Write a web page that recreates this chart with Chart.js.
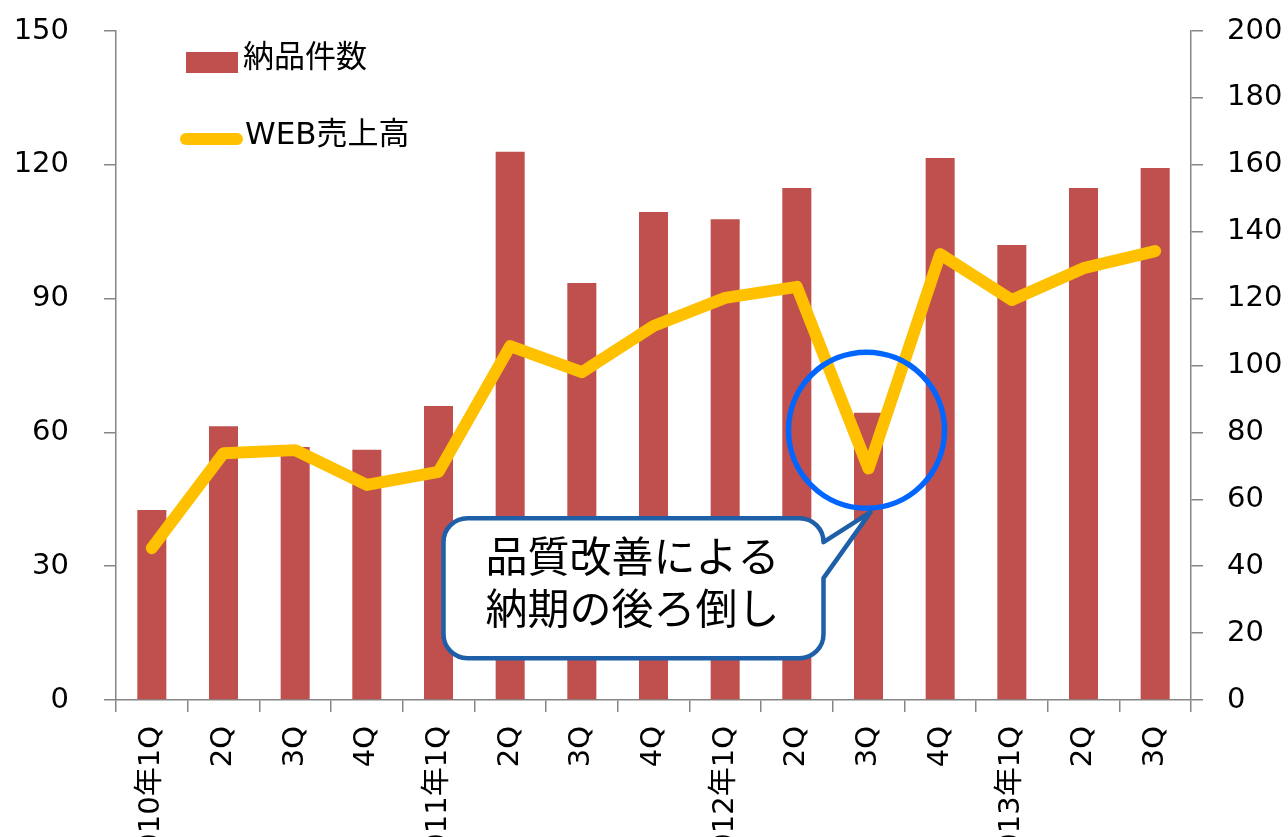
<!DOCTYPE html>
<html>
<head>
<meta charset="utf-8">
<script src="https://cdn.jsdelivr.net/npm/chart.js@4/dist/chart.umd.min.js"></script>
<style>
  html, body { margin: 0; padding: 0; background: #fff; overflow: hidden; }
  #wrap { width: 1288px; height: 880px; }
</style>
</head>
<body>
<div id="wrap"><canvas id="chart" width="1288" height="880"></canvas></div>
<script>
// quarterly deliveries (left axis) vs web sales (right axis)
const quarters = ['2010年1Q', '2Q', '3Q', '4Q', '2011年1Q', '2Q', '3Q', '4Q', '2012年1Q', '2Q', '3Q', '4Q', '2013年1Q', '2Q', '3Q'];
const deliveries = [42.6, 61.4, 56.7, 56.1, 65.9, 122.9, 93.5, 109.4, 107.8, 114.8, 64.4, 121.5, 102.0, 114.8, 119.3];
const webSales = [45.4, 73.8, 74.7, 64.3, 68.2, 105.8, 98.0, 111.8, 120.2, 123.5, 69.2, 133.3, 119.6, 129.1, 134.2];
const seriesNames = ['納品件数', 'WEB売上高'];
const calloutLines = ['品質改善による', '納期の後ろ倒し'];

const FONT = "'DejaVu Sans', 'Noto Sans CJK JP', sans-serif";
const AXIS = '#868686';
const RED = '#C0504D';
const GOLD = '#FFC000';
const BLUE = '#0066FF';
const NAVY = '#1F5FA8';

// legend drawn by hand, top-left inside the plot
const legendPlugin = {
    id: 'cornerLegend',
    afterDraw(chart) {
        const { ctx, chartArea: ca } = chart;
        const x0 = ca.left + 70;
        ctx.save();
        ctx.fillStyle = RED;
        ctx.fillRect(x0, ca.top + 21, 52, 21);
        ctx.strokeStyle = GOLD;
        ctx.lineWidth = 12;
        ctx.lineCap = 'round';
        ctx.beginPath();
        ctx.moveTo(x0, ca.top + 108);
        ctx.lineTo(x0 + 51, ca.top + 108);
        ctx.stroke();
        ctx.fillStyle = '#000';
        ctx.font = `31px ${FONT}`;
        ctx.textBaseline = 'middle';
        ctx.fillText(chart.data.datasets[1].label, x0 + 57, ca.top + 28);
        ctx.fillText(chart.data.datasets[0].label, x0 + 59, ca.top + 105);
        ctx.restore();
    },
};

// blue ring around the dip plus speech bubble
const calloutPlugin = {
    id: 'dipCallout',
    afterDatasetsDraw(chart) {
        const { ctx, scales } = chart;
        const cx = scales.x.getPixelForValue(10) - 2;
        const cy = scales.y.getPixelForValue(60.5);
        ctx.save();
        ctx.strokeStyle = BLUE;
        ctx.lineWidth = 5.5;
        ctx.beginPath();
        ctx.arc(cx, cy, 78, 0, Math.PI * 2);
        ctx.stroke();

        const l = cx - 423, r = cx - 43, t = cy + 88, b = cy + 228, rad = 24;
        const tipX = cx + 4, tipY = cy + 82;
        ctx.beginPath();
        ctx.moveTo(l + rad, t);
        ctx.lineTo(r - rad, t);
        ctx.arcTo(r, t, r, t + rad, rad);
        ctx.lineTo(r, t + 24);
        ctx.lineTo(tipX, tipY);
        ctx.lineTo(r, t + 60);
        ctx.lineTo(r, b - rad);
        ctx.arcTo(r, b, r - rad, b, rad);
        ctx.lineTo(l + rad, b);
        ctx.arcTo(l, b, l, b - rad, rad);
        ctx.lineTo(l, t + rad);
        ctx.arcTo(l, t, l + rad, t, rad);
        ctx.closePath();
        ctx.fillStyle = '#fff';
        ctx.fill();
        ctx.strokeStyle = NAVY;
        ctx.lineWidth = 4.5;
        ctx.lineJoin = 'round';
        ctx.stroke();

        ctx.fillStyle = '#000';
        ctx.font = `42px ${FONT}`;
        ctx.textAlign = 'center';
        ctx.textBaseline = 'middle';
        const mid = (l + r) / 2 - 1;
        ctx.fillText(calloutLines[0], mid, t + 43);
        ctx.fillText(calloutLines[1], mid, t + 95);
        ctx.restore();
    },
};

// the tick padding would otherwise push the plot top down
function fixSide(width) {
    return s => {
        s.width = width;
        s.paddingTop = 0;
        s.paddingBottom = 0;
    };
}

const ctx = document.getElementById('chart').getContext('2d');
new Chart(ctx, {
    type: 'bar',
    data: {
        labels: quarters,
        datasets: [
            {
                type: 'line',
                label: seriesNames[1],
                data: webSales,
                yAxisID: 'y1',
                borderColor: GOLD,
                borderWidth: 12,
                borderJoinStyle: 'round',
                borderCapStyle: 'round',
                pointRadius: 0,
                tension: 0,
                order: 0,
            },
            {
                type: 'bar',
                label: seriesNames[0],
                data: deliveries,
                yAxisID: 'y',
                backgroundColor: RED,
                barPercentage: 0.405,
                categoryPercentage: 1,
                order: 1,
            },
        ],
    },
    plugins: [calloutPlugin, legendPlugin],
    options: {
        responsive: false,
        animation: false,
        layout: { padding: { top: 31, right: 0, bottom: 0, left: 0 } },
        plugins: {
            legend: { display: false },
            tooltip: { enabled: false },
        },
        scales: {
            x: {
                grid: { drawOnChartArea: false, tickLength: 12, color: AXIS, lineWidth: 1.5, offset: true },
                border: { color: AXIS, width: 1.5 },
                ticks: {
                    color: '#000',
                    font: { family: FONT, size: 29 },
                    minRotation: 90,
                    maxRotation: 90,
                    autoSkip: false,
                    padding: 14,
                },
                afterFit(s) { s.height = 180; },
            },
            y: {
                position: 'left',
                min: 0,
                max: 150,
                grid: { drawOnChartArea: false, tickLength: 12, color: AXIS, lineWidth: 1.5 },
                border: { color: AXIS, width: 1.5 },
                ticks: { stepSize: 30, color: '#000', font: { family: FONT, size: 29 }, padding: 35 },
                afterFit: fixSide(116),
            },
            y1: {
                position: 'right',
                min: 0,
                max: 200,
                grid: { drawOnChartArea: false, tickLength: 12, color: AXIS, lineWidth: 1.5 },
                border: { color: AXIS, width: 1.5 },
                ticks: { stepSize: 20, color: '#000', font: { family: FONT, size: 29 }, padding: 24 },
                afterFit: fixSide(97),
            },
        },
    },
});
</script>
</body>
</html>
